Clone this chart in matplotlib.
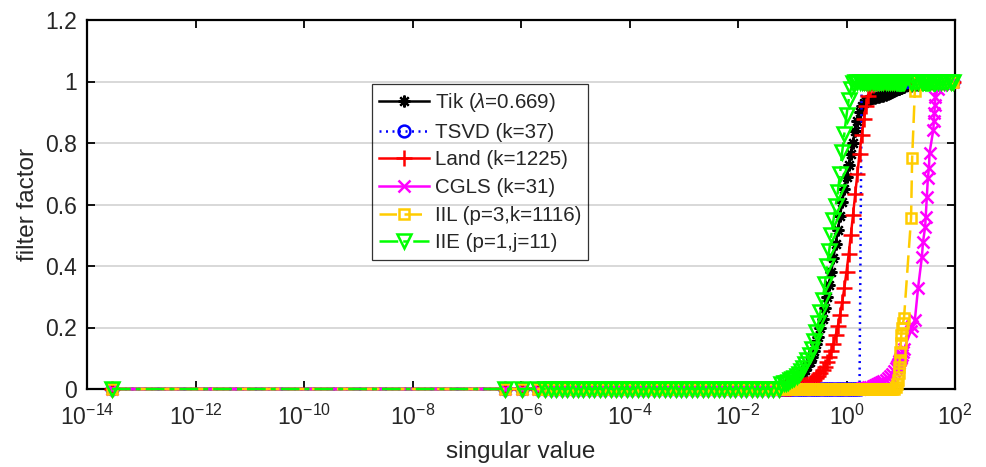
import numpy as np
import matplotlib
matplotlib.use("Agg")
import matplotlib.pyplot as plt
from matplotlib.ticker import FixedLocator, NullLocator, FuncFormatter

plt.rcParams['font.family'] = ['Liberation Sans', 'DejaVu Sans']
plt.rcParams['mathtext.fontset'] = 'custom'
plt.rcParams['mathtext.rm'] = 'Liberation Sans'
plt.rcParams['mathtext.it'] = 'Liberation Sans:italic'
plt.rcParams['mathtext.bf'] = 'Liberation Sans:bold'

# ---------------- data ----------------
# log10 of the singular values: isolated small ones + flat region
sv_exp_low = [-13.54, -6.30, -5.98, -5.69,
              -5.55, -5.45, -5.35, -5.25, -5.15, -5.05, -4.95, -4.85, -4.75, -4.65,
              -4.55, -4.45, -4.35, -4.25, -4.15, -4.05, -3.95, -3.85, -3.75, -3.65,
              -3.55, -3.45, -3.35, -3.25, -3.15, -3.05, -2.95, -2.85, -2.75, -2.65,
              -2.55, -2.45, -2.35, -2.25, -2.15, -2.05, -1.95, -1.85, -1.75, -1.65,
              -1.55, -1.45, -1.35, -1.25]
# filter factors of every method on the flat region (all zero)
ff_low = [0, 0, 0, 0,
          0, 0, 0, 0, 0, 0, 0, 0, 0, 0,
          0, 0, 0, 0, 0, 0, 0, 0, 0, 0,
          0, 0, 0, 0, 0, 0, 0, 0, 0, 0,
          0, 0, 0, 0, 0, 0, 0, 0, 0, 0,
          0, 0, 0, 0]

# log10 of the singular values in the transition / top region
sv_exp_high = [-1.20, -1.16, -1.12, -1.08, -1.04, -1.00, -0.96, -0.92, -0.88, -0.84,
               -0.80, -0.76, -0.72, -0.68, -0.64, -0.60, -0.56, -0.52, -0.48, -0.44,
               -0.40, -0.36, -0.32, -0.28, -0.24, -0.20, -0.16, -0.12, -0.08, -0.04,
               0.00, 0.04, 0.08, 0.12, 0.16, 0.20, 0.24, 0.28, 0.32, 0.36,
               0.40, 0.44, 0.48, 0.52, 0.56, 0.60,
               0.64, 0.68, 0.72, 0.76, 0.80, 0.84, 0.88, 0.91, 0.93, 0.95,
               0.96, 0.97, 0.98, 0.99, 1.00, 1.01, 1.02, 1.04, 1.06, 1.19,
               1.21, 1.26, 1.32, 1.39, 1.41, 1.45, 1.46, 1.48, 1.50, 1.52,
               1.53, 1.60, 1.61, 1.62, 1.63, 1.64, 1.68, 1.74, 1.80, 1.86,
               1.92, 1.97]

ff_tik = [0.009, 0.011, 0.013, 0.015, 0.018, 0.022, 0.026, 0.031, 0.037, 0.045,
          0.053, 0.063, 0.075, 0.089, 0.105, 0.124, 0.145, 0.169, 0.197, 0.227,
          0.262, 0.299, 0.339, 0.381, 0.425, 0.471, 0.517, 0.562, 0.607, 0.650,
          0.691, 0.729, 0.765, 0.800, 0.840, 0.870, 0.900, 0.920, 0.930, 0.935,
          0.940, 0.942, 0.945, 0.947, 0.950, 0.950,
          0.952, 0.954, 0.956, 0.960, 0.963, 0.967, 0.970, 0.972, 0.974, 0.975,
          0.976, 0.977, 0.978, 0.979, 0.980, 0.980, 0.981, 0.982, 0.983, 0.986,
          0.987, 0.988, 0.990, 0.991, 0.992, 0.993, 0.993, 0.993, 0.994, 0.994,
          0.994, 0.995, 0.995, 0.995, 0.996, 0.996, 0.996, 0.997, 0.997, 0.998,
          0.998, 0.998]

ff_tsvd = [0, 0, 0, 0, 0, 0, 0, 0, 0, 0,
           0, 0, 0, 0, 0, 0, 0, 0, 0, 0,
           0, 0, 0, 0, 0, 0, 0, 0, 0, 0,
           0, 0, 0, 0, 0, 0, 0, 1, 1, 1,
           1, 1, 1, 1, 1, 1,
           1, 1, 1, 1, 1, 1, 1, 1, 1, 1,
           1, 1, 1, 1, 1, 1, 1, 1, 1, 1,
           1, 1, 1, 1, 1, 1, 1, 1, 1, 1,
           1, 1, 1, 1, 1, 1, 1, 1, 1, 1,
           1, 1]

ff_land = [0.002, 0.002, 0.003, 0.003, 0.004, 0.005, 0.006, 0.007, 0.008, 0.010,
           0.012, 0.014, 0.017, 0.021, 0.025, 0.030, 0.036, 0.043, 0.051, 0.061,
           0.073, 0.087, 0.104, 0.124, 0.147, 0.174, 0.205, 0.241, 0.282, 0.329,
           0.381, 0.438, 0.500, 0.566, 0.633, 0.700, 0.765, 0.825, 0.877, 0.919,
           0.952, 0.974, 0.987, 0.995, 0.998, 1.0,
           1, 1, 1, 1, 1, 1, 1, 1, 1, 1,
           1, 1, 1, 1, 1, 1, 1, 1, 1, 1,
           1, 1, 1, 1, 1, 1, 1, 1, 1, 1,
           1, 1, 1, 1, 1, 1, 1, 1, 1, 1,
           1, 1]

ff_cgls = [0, 0, 0, 0, 0, 0, 0, 0, 0, 0,
           0, 0, 0, 0, 0, 0, 0, 0, 0, 0,
           0, 0, 0, 0, 0, 0, 0, 0, 0, 0,
           0, 0, 0, 0, 0, 0, 0.001, 0.002, 0.003, 0.004,
           0.006, 0.008, 0.010, 0.012, 0.015, 0.018,
           0.022, 0.026, 0.030, 0.036, 0.042, 0.050, 0.060, 0.068, 0.075, 0.082,
           0.086, 0.090, 0.094, 0.098, 0.100, 0.105, 0.110, 0.120, 0.130, 0.190,
           0.205, 0.224, 0.330, 0.430, 0.478, 0.527, 0.560, 0.625, 0.686, 0.720,
           0.767, 0.843, 0.870, 0.897, 0.923, 0.950, 0.975, 0.990, 1.0, 1.0,
           1.0, 1.0]

ff_iil = [0, 0, 0, 0, 0, 0, 0, 0, 0, 0,
          0, 0, 0, 0, 0, 0, 0, 0, 0, 0,
          0, 0, 0, 0, 0, 0, 0, 0, 0, 0,
          0, 0, 0, 0, 0, 0, 0, 0, 0, 0,
          0, 0, 0, 0, 0, 0,
          0, 0, 0, 0, 0, 0, 0, 0.005, 0.015, 0.030,
          0.052, 0.072, 0.095, 0.120, 0.150, 0.175, 0.200, 0.215, 0.230, 0.555,
          0.750, 0.970, 1, 1, 1, 1, 1, 1, 1, 1,
          1, 1, 1, 1, 1, 1, 1, 1, 1, 1,
          1, 1]

ff_iie = [0.015, 0.018, 0.020, 0.024, 0.028, 0.032, 0.037, 0.043, 0.050, 0.058,
          0.068, 0.080, 0.095, 0.110, 0.130, 0.155, 0.185, 0.215, 0.250, 0.290,
          0.340, 0.400, 0.450, 0.500, 0.550, 0.595, 0.640, 0.700, 0.770, 0.830,
          0.890, 0.940, 0.975, 0.995, 1, 1, 1, 1, 1, 1,
          1, 1, 1, 1, 1, 1,
          1, 1, 1, 1, 1, 1, 1, 1, 1, 1,
          1, 1, 1, 1, 1, 1, 1, 1, 1, 1,
          1, 1, 1, 1, 1, 1, 1, 1, 1, 1,
          1, 1, 1, 1, 1, 1, 1, 1, 1, 1,
          1, 1]

labels = ['Tik ($\\lambda$=0.669)', 'TSVD (k=37)', 'Land (k=1225)', 'CGLS (k=31)',
          'IIL (p=3,k=1116)', 'IIE (p=1,j=11)']
x_tick_exps = [-14, -12, -10, -8, -6, -4, -2, 0, 2]
y_ticks = [0, 0.2, 0.4, 0.6, 0.8, 1.0, 1.2]

# ---------------- styles ----------------
styles = [
    dict(color='k', ls='-', marker=(8, 2, 0), ms=8.5, mew=1.6),
    dict(color='#0000ff', ls=(0, (0.8, 1.8)), marker='o', ms=8.5, mew=1.8),
    dict(color='#ff0000', ls='-', marker='+', ms=11.5, mew=1.8),
    dict(color='#ff00ff', ls='-', marker='x', ms=8, mew=1.8),
    dict(color='#ffcc00', ls=(0, (7, 3)), marker='s', ms=7.5, mew=1.8),
    dict(color='#00ff00', ls=(0, (7.5, 2, 2, 2)), marker='v', ms=10, mew=1.8),
]

fig = plt.figure(figsize=(9.86, 4.67), dpi=100)
ax = fig.add_axes([87 / 986, 78 / 467, 868 / 986, 369 / 467])

sv = 10.0 ** np.array(sv_exp_low + sv_exp_high)
all_ff = [ff_tik, ff_tsvd, ff_land, ff_cgls, ff_iil, ff_iie]
for i, (ff, lab, st) in enumerate(zip(all_ff, labels, styles)):
    y = np.array(ff_low + ff, dtype=float)
    ax.plot(sv, y, color=st['color'], linestyle=st['ls'], linewidth=1.8,
            marker=st['marker'], markersize=st['ms'], markeredgewidth=st['mew'],
            markerfacecolor='none', markeredgecolor=st['color'],
            clip_on=False, zorder=3 + i, label=lab)

ax.set_xscale('log')
ax.set_xlim(1e-14, 1e2)
ax.set_ylim(0, 1.2)
ax.xaxis.set_major_locator(FixedLocator([10.0 ** k for k in x_tick_exps]))
ax.xaxis.set_minor_locator(NullLocator())
ax.xaxis.set_major_formatter(FuncFormatter(lambda v, p: r'$10^{%d}$' % int(round(np.log10(v)))))
ax.yaxis.set_major_locator(FixedLocator(y_ticks))
ax.yaxis.set_major_formatter(FuncFormatter(lambda v, p: '%g' % round(v, 2)))

ax.tick_params(direction='in', length=6, width=1.3, top=True, right=True,
               labelsize=16.5, colors='k')
ax.tick_params(axis='x', pad=11, labelcolor='#262626')
ax.tick_params(axis='y', pad=7, labelcolor='#262626')
ax.grid(axis='y', color='#d6d6d6', linewidth=1.3)
ax.set_axisbelow(True)
for s in ax.spines.values():
    s.set_linewidth(1.6)
    s.set_zorder(2.5)

ax.set_xlabel('singular value', fontsize=17.5, color='#262626')
ax.xaxis.set_label_coords(0.5, (389 - 452) / 369)
ax.xaxis.label.set_va('center')
ax.set_ylabel('filter factor', fontsize=17.5, color='#262626')
ax.yaxis.set_label_coords((28 - 87) / 868, 0.5)
ax.yaxis.label.set_va('center')

leg = ax.legend(loc='upper left', bbox_to_anchor=(372 / 986, 1 - 84 / 467),
                bbox_transform=fig.transFigure, borderaxespad=0, fontsize=14.8,
                frameon=True, fancybox=False, edgecolor='k', facecolor='none',
                framealpha=None, handlelength=2.4, handletextpad=0.3,
                labelspacing=0.42, borderpad=0.35)
leg.get_frame().set_linewidth(0.9)
leg.set_zorder(20)
for t in leg.get_texts():
    t.set_color('#262626')

fig.savefig('out.png', dpi=100)
